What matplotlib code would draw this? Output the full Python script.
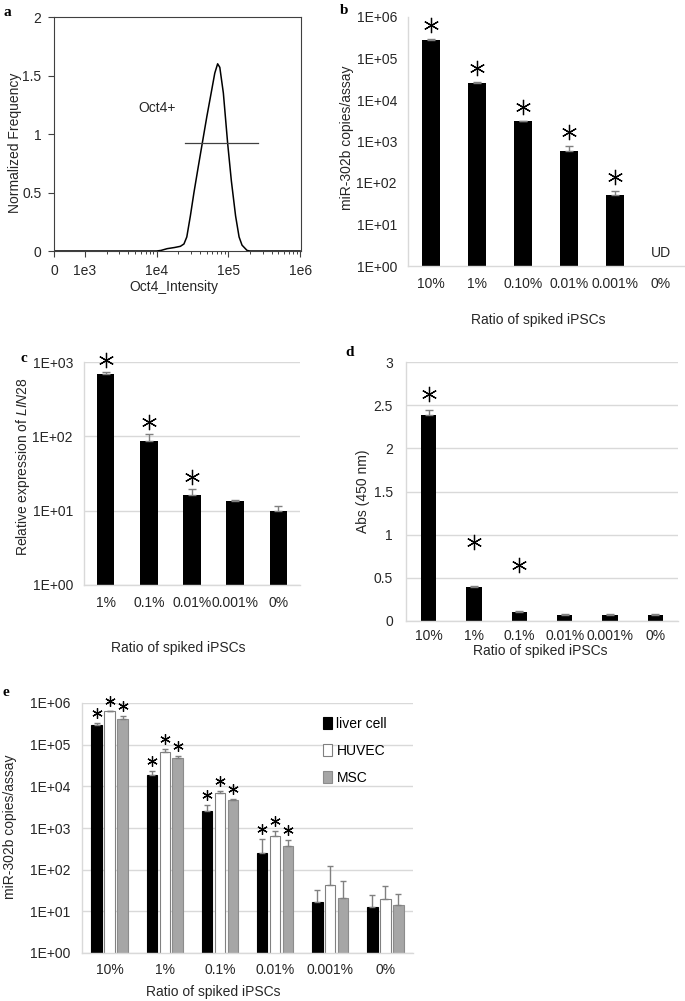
import numpy as np
import matplotlib.pyplot as plt
from matplotlib.transforms import offset_copy
from matplotlib.patches import Patch

plt.rcParams['font.family'] = ['Liberation Sans', 'DejaVu Sans']
plt.rcParams['mathtext.fontset'] = 'custom'
plt.rcParams['mathtext.rm'] = 'Liberation Sans'
plt.rcParams['mathtext.it'] = 'Liberation Sans:italic'

# ---- panel a: flow histogram ----
a_intensity = [0, 10000, 11500, 14000, 17800, 21400, 24000, 26300, 29500, 33100,
               38000, 43200, 50100, 57500, 64600, 70800, 75900, 85100, 97700,
               110000, 126000, 141000, 155000, 182000, 200000, 1000000]
a_freq = [0, 0, 0.005, 0.02, 0.03, 0.04, 0.06, 0.12, 0.3, 0.5,
          0.72, 0.92, 1.15, 1.35, 1.52, 1.60, 1.57, 1.35, 0.92,
          0.6, 0.3, 0.12, 0.05, 0.005, 0, 0]
a_gate_x = [25100, 257000]
a_gate_y = 0.92
a_xticks = [0, 1e3, 1e4, 1e5, 1e6]
a_xticklabels = ['0', '1e3', '1e4', '1e5', '1e6']

# ---- panel b ----
b_cats = ['10%', '1%', '0.10%', '0.01%', '0.001%', '0%']
b_vals = [2.8e5, 2.6e4, 3.1e3, 5.9e2, 50, 1]
b_err_top = [3.0e5, 2.65e4, 3.2e3, 7.8e2, 65, 1]
b_sig = [True, True, True, True, True, False]

# ---- panel c ----
c_cats = ['1%', '0.1%', '0.01%', '0.001%', '0%']
c_vals = [690, 87, 16.3, 13.5, 10]
c_err_top = [740, 107, 19.6, 13.9, 11.5]
c_sig = [True, True, True, False, False]

# ---- panel d ----
d_cats = ['10%', '1%', '0.1%', '0.01%', '0.001%', '0%']
d_vals = [2.39, 0.39, 0.10, 0.075, 0.07, 0.075]
d_err_top = [2.44, 0.41, 0.115, 0.085, 0.08, 0.085]
d_star_x = [0, 1, 2]
d_star_y = [2.63, 0.91, 0.65]

# ---- panel e ----
e_cats = ['10%', '1%', '0.1%', '0.01%', '0.001%', '0%']
e_series = ['liver cell', 'HUVEC', 'MSC']
e_liver = [3.0e5, 1.9e4, 2.5e3, 250, 17, 13]
e_liver_err = [3.3e5, 2.3e4, 3.5e3, 550, 33, 24]
e_huvec = [6.3e5, 6.5e4, 6.9e3, 630, 44, 20]
e_huvec_err = [6.6e5, 7.9e4, 7.9e3, 850, 120, 41]
e_msc = [4.1e5, 4.9e4, 4.6e3, 380, 21, 14]
e_msc_err = [4.8e5, 5.4e4, 5.1e3, 510, 52, 26]
e_sig = [True, True, True, True, False, False]

log_ticks = [1, 10, 100, 1e3, 1e4, 1e5, 1e6]
log_labels = ['1E+00', '1E+01', '1E+02', '1E+03', '1E+04', '1E+05', '1E+06']

W, H = 685, 1001
fig = plt.figure(figsize=(W / 100, H / 100), dpi=100)

GRID = '#d9d9d9'
ERR = '#808080'
TXT = '#262626'


def add_ax(l, t, r, b):
    return fig.add_axes([l / W, 1 - b / H, (r - l) / W, (b - t) / H])


def label(txt, px, py, rot=0):
    fig.text(px / W, 1 - py / H, txt, fontsize=10, color=TXT, rotation=rot,
             ha='center', va='center')


def excel_style(ax, grid=True):
    for s in ['top', 'right']:
        ax.spines[s].set_visible(False)
    for s in ['left', 'bottom']:
        ax.spines[s].set_color(GRID)
        ax.spines[s].set_linewidth(1)
    ax.tick_params(length=0, labelsize=10, labelcolor=TXT)
    ax.tick_params(which='minor', length=0)
    if grid:
        ax.yaxis.grid(True, color=GRID, lw=1)
        ax.set_axisbelow(True)


def upper_err(ax, x, vals, tops, cap=3):
    lo = np.zeros(len(vals))
    hi = np.array(tops) - np.array(vals)
    ax.errorbar(x, vals, yerr=[lo, hi], fmt='none', ecolor=ERR, elinewidth=1,
                capsize=cap, capthick=1)


def stars(ax, x, y, dy, size):
    tr = offset_copy(ax.transData, fig=fig, x=0, y=dy, units='dots')
    ax.plot(x, y, ls='none', marker=(6, 2, 0), ms=size, mew=0.9, color='black',
            transform=tr, clip_on=False)


# ---- a ----
ax = add_ax(54, 17, 301, 251)
ax.set_xscale('symlog', linthresh=1e3, linscale=0.389)
ax.plot(a_intensity, a_freq, color='black', lw=1.1)
ax.plot(a_gate_x, [a_gate_y, a_gate_y], color='#404040', lw=0.9)
ax.text(5600, 1.22, 'Oct4+', fontsize=10, va='center', ha='left', color=TXT)
ax.set_xlim(0, 1.03e6)
ax.set_ylim(0, 2)
ax.set_xticks(a_xticks)
ax.set_xticklabels(a_xticklabels)
ax.set_xticks([k * 10 ** n for n in (3, 4, 5) for k in range(2, 10)], minor=True)
ax.set_yticks([0, 0.5, 1, 1.5, 2])
ax.set_yticklabels(['0', '0.5', '1', '1.5', '2'])
ax.tick_params(direction='out', length=4, width=0.8, labelsize=10, color='#404040',
               labelcolor=TXT, pad=5)
ax.tick_params(which='minor', direction='out', length=2.5, width=0.7, color='#404040')
for s in ax.spines.values():
    s.set_linewidth(0.8)
    s.set_color('#404040')
label('Oct4_Intensity', 174, 287)
label('Normalized Frequency', 15, 143, 90)

# ---- b ----
ax = add_ax(408, 17, 684, 266)
x = np.arange(len(b_cats))
ax.set_yscale('log')
ax.bar(x, b_vals, width=0.39, color='black')
upper_err(ax, x[:5], b_vals[:5], b_err_top[:5])
sx = [i for i in x if b_sig[i]]
stars(ax, sx, [b_err_top[i] for i in sx], 14, 11)
ax.text(x[5], 1.4, 'UD', ha='center', va='bottom', fontsize=10, color=TXT)
ax.set_ylim(1, 1e6)
ax.set_xlim(-0.5, len(b_cats) - 0.5)
ax.set_yticks(log_ticks)
ax.set_yticklabels(log_labels)
ax.set_xticks(x)
ax.set_xticklabels(b_cats)
excel_style(ax, grid=False)
ax.tick_params(axis='x', pad=8)
ax.tick_params(axis='y', pad=8)
label('Ratio of spiked iPSCs', 538, 320)
label('miR-302b copies/assay', 347, 138, 90)

# ---- c ----
ax = add_ax(84, 362, 300, 585)
x = np.arange(len(c_cats))
ax.set_yscale('log')
ax.bar(x, c_vals, width=0.41, color='black')
upper_err(ax, x, c_vals, c_err_top)
sx = [i for i in x if c_sig[i]]
stars(ax, sx, [c_err_top[i] for i in sx], 12, 11)
ax.set_ylim(1, 1e3)
ax.set_xlim(-0.5, len(c_cats) - 0.5)
ax.set_yticks(log_ticks[:4])
ax.set_yticklabels(log_labels[:4])
ax.set_xticks(x)
ax.set_xticklabels(c_cats)
excel_style(ax)
ax.tick_params(axis='x', pad=8)
ax.tick_params(axis='y', pad=8)
label('Ratio of spiked iPSCs', 178, 648)
label(r'Relative expression of $\mathit{LIN28}$', 23, 467, 90)

# ---- d ----
ax = add_ax(406, 362, 678, 621)
x = np.arange(len(d_cats))
ax.bar(x, d_vals, width=0.34, color='black')
upper_err(ax, x, d_vals, d_err_top)
ax.plot(d_star_x, d_star_y, ls='none', marker=(6, 2, 0), ms=11, mew=0.9,
        color='black')
ax.set_ylim(0, 3)
ax.set_xlim(-0.5, len(d_cats) - 0.5)
ax.set_yticks([0, 0.5, 1, 1.5, 2, 2.5, 3])
ax.set_yticklabels(['0', '0.5', '1', '1.5', '2', '2.5', '3'])
ax.set_xticks(x)
ax.set_xticklabels(d_cats)
excel_style(ax)
ax.tick_params(axis='x', pad=6)
ax.tick_params(axis='y', pad=9.5)
label('Ratio of spiked iPSCs', 540, 651)
label('Abs (450 nm)', 363, 491, 90)

# ---- e ----
ax = add_ax(82, 703, 413, 953)
x = np.arange(len(e_cats))
ax.set_yscale('log')
bw, off = 0.19, 0.235
styles = [('black', 'black'), ('white', ERR), ('#a6a6a6', '#8c8c8c')]
vals = [e_liver, e_huvec, e_msc]
tops = [e_liver_err, e_huvec_err, e_msc_err]
handles = []
for k in range(3):
    xs = x + (k - 1) * off
    ax.bar(xs, vals[k], width=bw, color=styles[k][0], edgecolor=styles[k][1], lw=0.8)
    upper_err(ax, xs, vals[k], tops[k], cap=2.5)
    sx = [xs[i] for i in range(len(x)) if e_sig[i]]
    sy = [tops[k][i] for i in range(len(x)) if e_sig[i]]
    stars(ax, sx, sy, 10, 7.5)
    handles.append(Patch(facecolor=styles[k][0], edgecolor=styles[k][1], lw=0.8))
ax.legend(handles, e_series, loc='upper left', bbox_to_anchor=(0.71, 0.968),
          frameon=False, fontsize=10, handlelength=0.7, handleheight=0.9,
          handletextpad=0.3, labelspacing=0.95, borderaxespad=0)
ax.set_ylim(1, 1e6)
ax.set_xlim(-0.5, len(e_cats) - 0.5)
ax.set_yticks(log_ticks)
ax.set_yticklabels(log_labels)
ax.set_xticks(x)
ax.set_xticklabels(e_cats)
excel_style(ax)
ax.tick_params(axis='x', pad=7.5)
ax.tick_params(axis='y', pad=8.5)
label('Ratio of spiked iPSCs', 213, 992)
label('miR-302b copies/assay', 10, 827, 90)

# panel letters
for lab, px, py in [('a', 7, 12), ('b', 344, 10), ('c', 24, 358), ('d', 350, 352),
                    ('e', 6, 693)]:
    fig.text(px / W, 1 - py / H, lab, fontsize=11, fontweight='bold',
             family='Liberation Serif', ha='center', va='center')

fig.savefig('out.png', dpi=100)
